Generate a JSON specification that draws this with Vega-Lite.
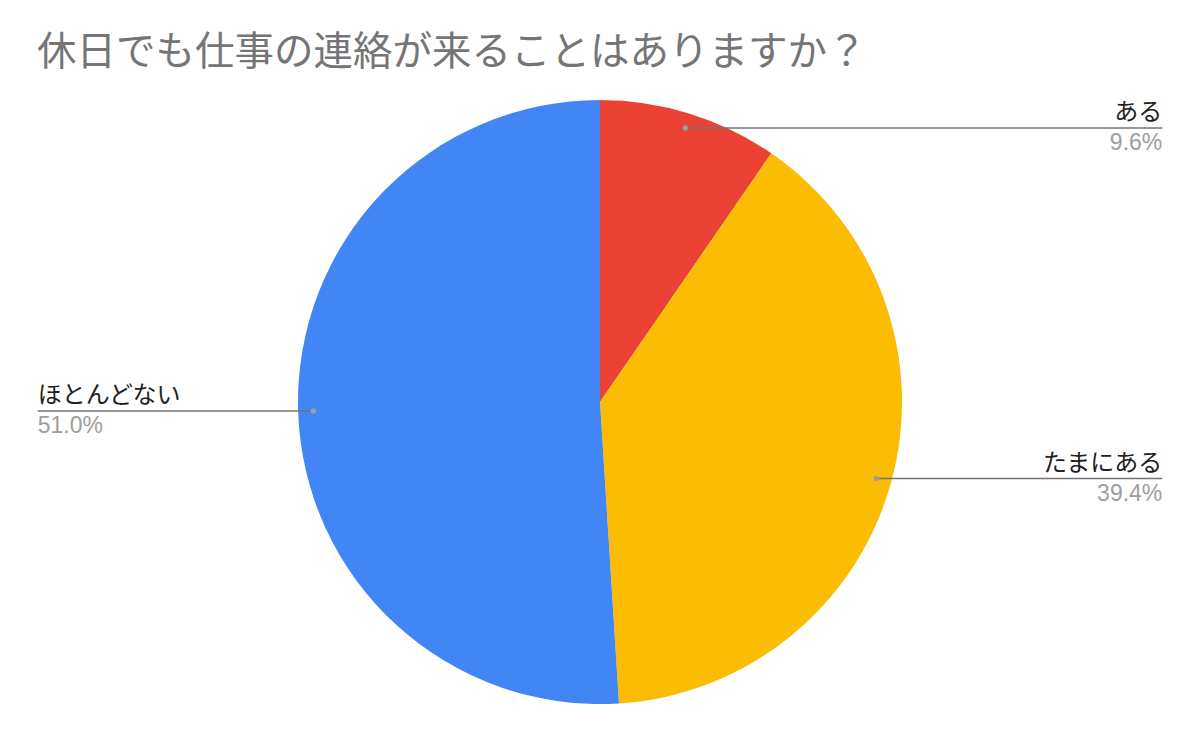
{
  "$schema": "https://vega.github.io/schema/vega-lite/v6.json",
  "autosize": "none",
  "width": 1200,
  "height": 680,
  "padding": {"top": 62, "left": 0, "right": 0, "bottom": 0},
  "background": "#ffffff",
  "title": {
    "text": "休日でも仕事の連絡が来ることはありますか？",
    "anchor": "start",
    "font": "Noto Sans CJK JP",
    "fontSize": 39.5,
    "fontWeight": "normal",
    "color": "#757575",
    "dx": 37,
    "dy": 15
  },
  "data": {
    "values": [
      {"answer": "ある", "pct": 9.6, "order": 1},
      {"answer": "たまにある", "pct": 39.4, "order": 2},
      {"answer": "ほとんどない", "pct": 51.0, "order": 3}
    ]
  },
  "transform": [
    {"window": [{"op": "sum", "field": "pct", "as": "cum"}], "sort": [{"field": "order"}], "frame": [null, 0]},
    {"joinaggregate": [{"op": "sum", "field": "pct", "as": "total"}]},
    {"calculate": "(datum.cum - datum.pct / 2) / datum.total * 2 * PI", "as": "mid"},
    {"calculate": "0.95 * sin(datum.mid)", "as": "px"},
    {"calculate": "0.95 * cos(datum.mid)", "as": "py"},
    {"calculate": "datum.px > 0 ? 1.862 : -1.862", "as": "ex"},
    {"calculate": "format(datum.pct, '.1f') + '%'", "as": "pctLabel"}
  ],
  "layer": [
    {
      "mark": {"type": "arc", "outerRadius": 302},
      "encoding": {
        "theta": {"field": "pct", "type": "quantitative", "stack": true},
        "order": {"field": "order", "type": "quantitative"},
        "color": {
          "field": "answer",
          "type": "nominal",
          "scale": {
            "domain": ["ある", "たまにある", "ほとんどない"],
            "range": ["#EA4335", "#FBBC04", "#4285F4"]
          },
          "legend": null
        }
      }
    },
    {
      "mark": {"type": "rule", "color": "#757575", "strokeWidth": 1.5},
      "encoding": {
        "x": {"field": "px", "type": "quantitative", "scale": {"domain": [-1.9868, 1.9868], "zero": false, "nice": false}, "axis": null},
        "x2": {"field": "ex"},
        "y": {"field": "py", "type": "quantitative", "scale": {"domain": [-1.1258, 1.1258], "zero": false, "nice": false}, "axis": null}
      }
    },
    {
      "mark": {"type": "circle", "size": 30, "color": "#9e9e9e", "opacity": 1},
      "encoding": {
        "x": {"field": "px", "type": "quantitative", "scale": {"domain": [-1.9868, 1.9868], "zero": false, "nice": false}, "axis": null},
        "y": {"field": "py", "type": "quantitative", "scale": {"domain": [-1.1258, 1.1258], "zero": false, "nice": false}, "axis": null}
      }
    },
    {
      "transform": [{"filter": "datum.px > 0"}],
      "mark": {"type": "text", "align": "right", "baseline": "alphabetic", "dy": -8, "font": "Noto Sans CJK JP", "fontSize": 24, "color": "#212121"},
      "encoding": {
        "x": {"field": "ex", "type": "quantitative", "scale": {"domain": [-1.9868, 1.9868], "zero": false, "nice": false}, "axis": null},
        "y": {"field": "py", "type": "quantitative", "scale": {"domain": [-1.1258, 1.1258], "zero": false, "nice": false}, "axis": null},
        "text": {"field": "answer"}
      }
    },
    {
      "transform": [{"filter": "datum.px > 0"}],
      "mark": {"type": "text", "align": "right", "baseline": "alphabetic", "dy": 22, "font": "Liberation Sans", "fontSize": 23, "color": "#9e9e9e"},
      "encoding": {
        "x": {"field": "ex", "type": "quantitative", "scale": {"domain": [-1.9868, 1.9868], "zero": false, "nice": false}, "axis": null},
        "y": {"field": "py", "type": "quantitative", "scale": {"domain": [-1.1258, 1.1258], "zero": false, "nice": false}, "axis": null},
        "text": {"field": "pctLabel"}
      }
    },
    {
      "transform": [{"filter": "datum.px < 0"}],
      "mark": {"type": "text", "align": "left", "baseline": "alphabetic", "dy": -8, "font": "Noto Sans CJK JP", "fontSize": 24, "color": "#212121"},
      "encoding": {
        "x": {"field": "ex", "type": "quantitative", "scale": {"domain": [-1.9868, 1.9868], "zero": false, "nice": false}, "axis": null},
        "y": {"field": "py", "type": "quantitative", "scale": {"domain": [-1.1258, 1.1258], "zero": false, "nice": false}, "axis": null},
        "text": {"field": "answer"}
      }
    },
    {
      "transform": [{"filter": "datum.px < 0"}],
      "mark": {"type": "text", "align": "left", "baseline": "alphabetic", "dy": 22, "font": "Liberation Sans", "fontSize": 23, "color": "#9e9e9e"},
      "encoding": {
        "x": {"field": "ex", "type": "quantitative", "scale": {"domain": [-1.9868, 1.9868], "zero": false, "nice": false}, "axis": null},
        "y": {"field": "py", "type": "quantitative", "scale": {"domain": [-1.1258, 1.1258], "zero": false, "nice": false}, "axis": null},
        "text": {"field": "pctLabel"}
      }
    }
  ],
  "config": {
    "view": {"stroke": null}
  }
}
